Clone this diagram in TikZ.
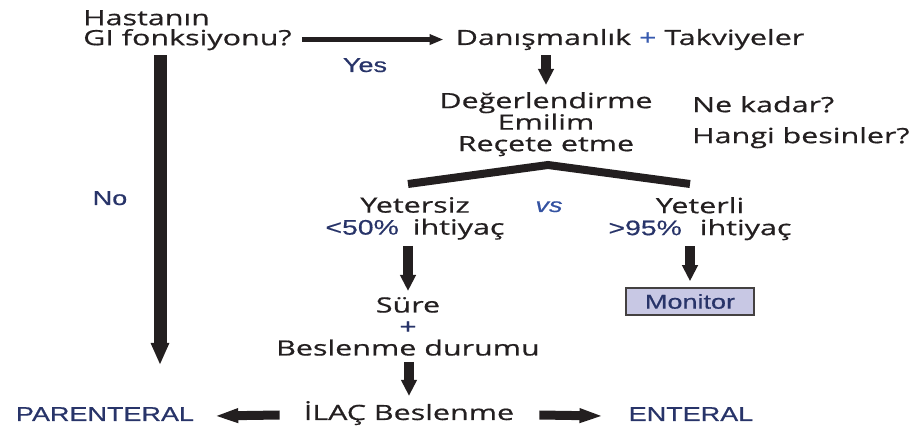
\documentclass[tikz,border=0pt]{standalone}
\usepackage{fontspec}
\setmainfont{Open Sans}[FakeStretch=1.45,FakeBold=0.7]
\newfontfamily\enfont{Liberation Sans}[FakeStretch=1.35,FakeBold=0.5]
\usetikzlibrary{arrows.meta}
\definecolor{ink}{RGB}{35,31,32}
\definecolor{navy}{RGB}{40,52,105}
\definecolor{plusblue}{RGB}{55,90,175}
\definecolor{monfill}{RGB}{200,200,228}
\tikzset{
  txt/.style={inner sep=0pt,text=ink,font=\fontsize{21}{21.5}\selectfont},
  lbl/.style={inner sep=0pt,text=navy,font=\enfont\fontsize{20}{22}\selectfont},
  harr/.style={draw=ink,line width=5pt,-{Triangle[length=14pt,width=10pt]}},
  varr/.style={draw=ink,line width=10pt,-{Triangle[length=16pt,width=15pt]}},
  larr/.style={draw=ink,line width=9pt,-{Triangle[length=24pt,width=13pt]}},
  bigarr/.style={draw=ink,line width=13pt,-{Triangle[length=22pt,width=17pt]}},
  bar/.style={draw=ink,line width=8pt},
  monbox/.style={draw=ink!85,line width=1.5pt,fill=monfill,minimum width=128pt,minimum height=27pt,inner sep=0pt}
}
\begin{document}
\begin{tikzpicture}[x=1pt,y=-1pt]
\useasboundingbox (0,0) rectangle (922,430);
\node[txt,anchor=north west,align=left,font=\fontsize{21}{20}\selectfont] (q) at (83,10) {Hastanın\\GI fonksiyonu?};
\node[txt,anchor=base] (dan) at (630,45) {Danışmanlık {\color{plusblue}+} Takviyeler};
\node[lbl,anchor=base] (yes) at (365,72) {Yes};
\node[lbl,anchor=base] (no) at (110,205) {No};
\node[txt,anchor=north,align=center] (eval) at (546,92) {Değerlendirme\\Emilim\\Reçete etme};
\node[txt,anchor=north west,align=left,font=\fontsize{21}{31}\selectfont] (nek) at (692,96) {Ne kadar?\\Hangi besinler?};
\node[txt,anchor=north,align=center,font=\fontsize{21}{22}\selectfont] (yetersiz) at (415,197)
  {Yetersiz\\{\enfont\color{navy}<50\%}\hspace{14pt}ihtiyaç};
\node[lbl,anchor=base,font=\enfont\itshape\fontsize{20}{22}\selectfont,text=plusblue!80!navy] (vs) at (549,212) {vs};
\node[txt,anchor=north,align=center,font=\fontsize{21}{22}\selectfont] (yeterli) at (700,197)
  {Yeterli\\{\enfont\color{navy}>95\%}\hspace{18pt}ihtiyaç};
\node[monbox,lbl] (mon) at (690,301.5) {Monitor};
\node[txt,anchor=north,align=center] (sure) at (408,297) {Süre\\{\color{navy}+}\\Beslenme durumu};
\node[txt,anchor=base] (ilac) at (409,420) {İLAÇ Beslenme};
\node[lbl,anchor=base] (par) at (105,421) {PARENTERAL};
\node[lbl,anchor=base] (ent) at (691,421) {ENTERAL};
\coordinate (nend) at (160,365);
\coordinate (apex) at (548,165);

\draw[harr] ([xshift=10pt]q.east |- dan) -- ([xshift=-12pt]dan.west);
\draw[varr,shorten <=5pt,shorten >=7pt] (eval.north |- dan.south) -- (eval.north);
\draw[bar] (yetersiz.north -| sure.north) ++(0,-13) -- (apex) -- ([yshift=13pt]yeterli.north -| mon.north);
\draw[varr,shorten <=6pt,shorten >=6pt] (sure.north |- yetersiz.south) -- (sure.north);
\draw[varr,shorten <=6pt,shorten >=6pt] (mon.north |- yeterli.south) -- (mon.north);
\draw[varr,shorten <=6pt,shorten >=5pt] (ilac.north |- sure.south) -- (ilac.north);
\draw[bigarr,shorten <=5pt] (q.south west -| nend) -- (nend);
\draw[larr] ([xshift=-24pt,yshift=5pt]ilac.base west) -- ([xshift=20pt,yshift=5pt]par.base east);
\draw[larr] ([xshift=25pt,yshift=5pt]ilac.base east) -- ([xshift=-25pt,yshift=5pt]ent.base west);
\end{tikzpicture}
\end{document}
